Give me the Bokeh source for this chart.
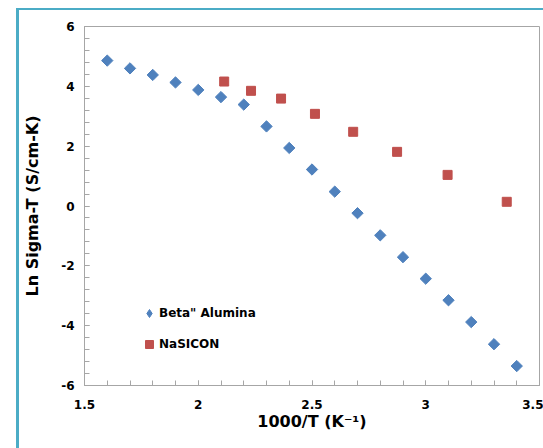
from bokeh.plotting import figure
from bokeh.models import (SingleIntervalTicker, CustomJSTickFormatter, Legend, LegendItem,
                          Range1d)
from bokeh.embed import file_html
from bokeh.resources import INLINE
import numpy as np

# Data
beta_x = [1.6, 1.7, 1.8, 1.9, 2.0, 2.1, 2.2, 2.3, 2.4, 2.5, 2.6, 2.7, 2.8, 2.9, 3.0, 3.1, 3.2, 3.3, 3.4]
beta_y = [4.86, 4.60, 4.38, 4.13, 3.88, 3.64, 3.39, 2.66, 1.94, 1.22, 0.48, -0.24, -0.98, -1.71, -2.43, -3.15, -3.88, -4.62, -5.35]
nasicon_x = [2.114, 2.232, 2.364, 2.513, 2.681, 2.874, 3.096, 3.356]
nasicon_y = [4.16, 3.85, 3.59, 3.08, 2.48, 1.81, 1.04, 0.14]
x_label = "1000/T (K\u207b\u00b9)"
y_label = "Ln Sigma-T (S/cm-K)"
series_names = ['Beta" Alumina', "NaSICON"]

BLUE = "#4F81BD"
RED = "#C0504D"
GRID = "#A6A6A6"
TEAL = "#4BACC6"
FONT = "DejaVu Sans"

p = figure(width=527, height=440, output_backend="svg", toolbar_location=None,
           x_range=Range1d(1.5, 3.5), y_range=Range1d(-6, 6),
           min_border_left=65, min_border_right=7, min_border_top=16, min_border_bottom=65)
p.styles = {"margin-left": "16px", "margin-top": "8px",
            "border-left": "3px solid " + TEAL, "border-top": "2px solid " + TEAL,
            "border-right": "0px none", "border-bottom": "0px none"}
p.background_fill_color = "white"
p.border_fill_color = "white"
p.outline_line_color = GRID
p.outline_line_width = 1
p.xgrid.visible = False
p.ygrid.visible = False

p.xaxis.ticker = SingleIntervalTicker(interval=0.5, num_minor_ticks=5)
p.yaxis.ticker = SingleIntervalTicker(interval=2, num_minor_ticks=5)
fmt = CustomJSTickFormatter(code="return String(Math.round(tick*10)/10)")
p.xaxis.formatter = fmt
p.yaxis.formatter = fmt

for ax in (p.xaxis[0], p.yaxis[0]):
    ax.axis_line_color = GRID
    ax.major_tick_line_color = GRID
    ax.minor_tick_line_color = GRID
    ax.major_tick_in = 5
    ax.major_tick_out = 0
    ax.minor_tick_in = 5
    ax.minor_tick_out = 0
    ax.major_label_text_font = FONT
    ax.major_label_text_font_style = "bold"
    ax.major_label_text_font_size = "12px"
    ax.major_label_text_color = "black"
    ax.axis_label_text_font = FONT
    ax.axis_label_text_font_style = "bold"
    ax.axis_label_text_color = "black"

p.xaxis.axis_label = x_label
p.yaxis.axis_label = y_label
p.xaxis.axis_label_text_font_size = "16px"
p.yaxis.axis_label_text_font_size = "16px"
p.xaxis.major_label_standoff = 14
p.yaxis.major_label_standoff = 10
p.xaxis.axis_label_standoff = 0
p.yaxis.axis_label_standoff = 16

r1 = p.scatter(beta_x, beta_y, marker="square", angle=np.pi / 4, size=8,
               fill_color=BLUE, line_color=BLUE)
r2 = p.scatter(nasicon_x, nasicon_y, marker="square", size=9,
               fill_color=RED, line_color=RED)

# legend-only glyphs
l1 = p.scatter([np.nan], [np.nan], marker="diamond", fill_color=BLUE, line_color=BLUE)
l2 = p.scatter([np.nan], [np.nan], marker="square", fill_color=RED, line_color=RED)

legend = Legend(items=[LegendItem(label=series_names[0], renderers=[l1]),
                       LegendItem(label=series_names[1], renderers=[l2])],
                location=(55, 31), orientation="vertical")
legend.glyph_width = 20
legend.glyph_height = 20
legend.label_height = 20
legend.spacing = 11
legend.padding = 0
legend.margin = 0
legend.label_standoff = 0
legend.border_line_color = None
legend.background_fill_alpha = 0
legend.label_text_font = FONT
legend.label_text_font_style = "bold"
legend.label_text_font_size = "12px"
legend.label_text_color = "black"
p.add_layout(legend, "center")

open("out.html", "w").write(file_html(p, INLINE))
